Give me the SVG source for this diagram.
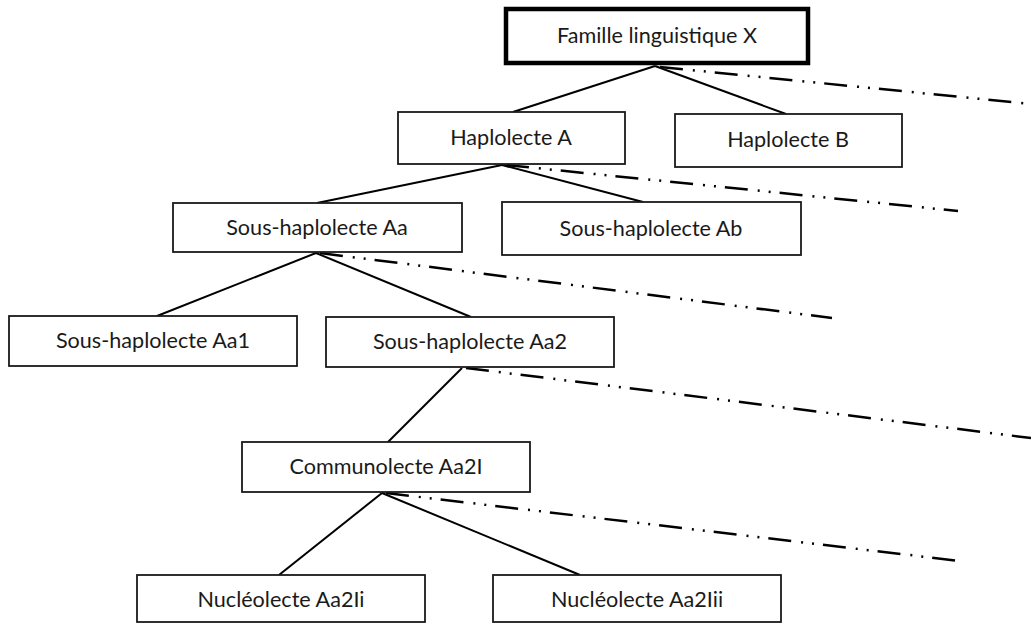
<svg xmlns="http://www.w3.org/2000/svg" width="1031" height="624" viewBox="0 0 1031 624">
<style>
.box{fill:#fff;stroke:#1a1a1a;stroke-width:1.8}
.root{fill:#fff;stroke:#000;stroke-width:4.5}
.lbl{font-family:Lato,"Liberation Sans",sans-serif;font-size:21.6px;fill:#1a1a1a;text-anchor:middle}
.ln{stroke:#000;stroke-width:2;fill:none}
.dash{stroke:#000;stroke-width:2.5;fill:none;stroke-dasharray:23 10 2 9 2 9}
</style>
<rect width="1031" height="624" fill="#fff"/>
<g id="connectors">
<line class="ln" x1="655" y1="66" x2="513" y2="112"/>
<line class="ln" x1="655" y1="66" x2="786" y2="114"/>
<line class="dash" x1="660" y1="67" x2="1031" y2="104"/>
<line class="ln" x1="502" y1="165" x2="317" y2="203"/>
<line class="ln" x1="502" y1="165" x2="643" y2="202"/>
<line class="dash" x1="506" y1="165" x2="958" y2="211"/>
<line class="ln" x1="316" y1="253" x2="157" y2="316"/>
<line class="ln" x1="316" y1="253" x2="471" y2="317"/>
<line class="dash" x1="320" y1="253" x2="832" y2="318"/>
<line class="ln" x1="462" y1="368" x2="388" y2="442"/>
<line class="dash" x1="466" y1="368" x2="1031" y2="438"/>
<line class="ln" x1="382" y1="493" x2="279" y2="575"/>
<line class="ln" x1="382" y1="493" x2="580" y2="575"/>
<line class="dash" x1="386" y1="493" x2="960" y2="561"/>
</g>
<g id="famille"><rect class="root" x="506" y="9" width="302" height="54"/><text class="lbl" x="657" y="43">Famille linguistique X</text></g>
<g id="haploA"><rect class="box" x="398" y="112" width="227" height="52"/><text class="lbl" x="511" y="145">Haplolecte A</text></g>
<g id="haploB"><rect class="box" x="675" y="114" width="227" height="53"/><text class="lbl" x="788" y="147">Haplolecte B</text></g>
<g id="sousAa"><rect class="box" x="173" y="203" width="289" height="49"/><text class="lbl" x="317" y="235">Sous-haplolecte Aa</text></g>
<g id="sousAb"><rect class="box" x="502" y="202" width="299" height="53"/><text class="lbl" x="651" y="236">Sous-haplolecte Ab</text></g>
<g id="sousAa1"><rect class="box" x="9" y="316" width="288" height="50"/><text class="lbl" x="153" y="348">Sous-haplolecte Aa1</text></g>
<g id="sousAa2"><rect class="box" x="326" y="317" width="288" height="50"/><text class="lbl" x="470" y="349">Sous-haplolecte Aa2</text></g>
<g id="communolecte"><rect class="box" x="242" y="442" width="288" height="50"/><text class="lbl" x="386" y="474">Communolecte Aa2I</text></g>
<g id="nucleoI"><rect class="box" x="137" y="575" width="288" height="47"/><text class="lbl" x="281" y="607">Nucléolecte Aa2Ii</text></g>
<g id="nucleoII"><rect class="box" x="493" y="575" width="288" height="47"/><text class="lbl" x="637" y="607">Nucléolecte Aa2Iii</text></g>
</svg>
